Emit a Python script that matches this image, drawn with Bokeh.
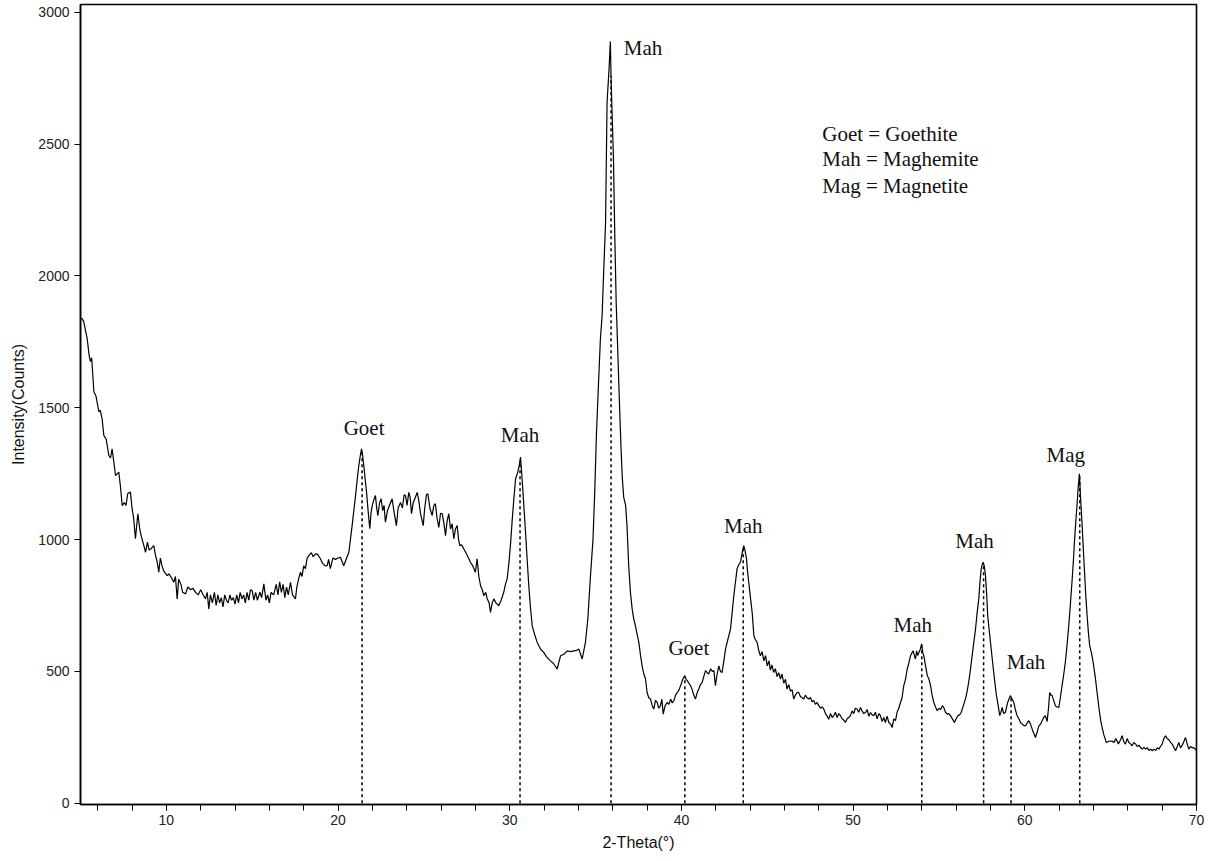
from bokeh.plotting import figure
from bokeh.models import Range1d, SingleIntervalTicker, ColumnDataSource, Label
from bokeh.embed import file_html
from bokeh.resources import INLINE
from bokeh.core.properties import value

# ---------------- data ----------------
two_theta = [5.0, 5.1, 5.19, 5.3, 5.39, 5.5, 5.58, 5.65, 5.78, 5.9, 6.07, 6.15, 6.26, 6.36, 6.5, 6.65, 6.75, 6.84, 6.95, 7.04,
             7.15, 7.23, 7.33, 7.43, 7.55, 7.65, 7.75, 7.91, 8.0, 8.1, 8.2, 8.34, 8.45, 8.55, 8.69, 8.79, 8.9, 9.0, 9.1, 9.27,
             9.37, 9.47, 9.56, 9.65, 9.75, 9.85, 10.05, 10.15, 10.3, 10.43, 10.53, 10.63, 10.72, 10.85, 10.95, 11.12, 11.25, 11.4, 11.55, 11.7,
             11.85, 12.0, 12.15, 12.28, 12.38, 12.47, 12.57, 12.68, 12.8, 12.9, 13.0, 13.1, 13.2, 13.3, 13.4, 13.5, 13.6, 13.7, 13.8, 13.9,
             14.0, 14.1, 14.2, 14.3, 14.4, 14.5, 14.6, 14.7, 14.8, 14.9, 15.0, 15.1, 15.2, 15.3, 15.45, 15.55, 15.68, 15.8, 15.9, 16.0,
             16.1, 16.25, 16.4, 16.5, 16.6, 16.7, 16.8, 16.9, 17.0, 17.1, 17.23, 17.35, 17.52, 17.6, 17.7, 17.81, 17.9, 18.0, 18.1, 18.2,
             18.3, 18.45, 18.55, 18.69, 18.8, 18.95, 19.1, 19.25, 19.37, 19.45, 19.55, 19.7, 19.85, 20.0, 20.14, 20.33, 20.5, 20.63, 20.72, 20.82,
             20.92, 21.02, 21.12, 21.21, 21.3, 21.37, 21.43, 21.5, 21.58, 21.66, 21.75, 21.85, 21.92, 21.99, 22.08, 22.18, 22.25, 22.32, 22.42, 22.51,
             22.6, 22.68, 22.76, 22.88, 23.0, 23.15, 23.25, 23.4, 23.5, 23.64, 23.75, 23.85, 23.93, 24.02, 24.12, 24.2, 24.28, 24.38, 24.5, 24.61,
             24.7, 24.8, 24.96, 25.05, 25.15, 25.23, 25.35, 25.48, 25.58, 25.67, 25.77, 25.87, 25.97, 26.07, 26.17, 26.26, 26.35, 26.45, 26.55, 26.65,
             26.74, 26.84, 26.94, 27.02, 27.09, 27.2, 27.32, 27.45, 27.6, 27.71, 27.85, 28.0, 28.1, 28.2, 28.3, 28.4, 28.49, 28.6, 28.69, 28.8,
             28.88, 28.98, 29.07, 29.2, 29.36, 29.5, 29.65, 29.75, 29.85, 29.95, 30.04, 30.14, 30.24, 30.34, 30.47, 30.55, 30.63, 30.72, 30.82, 30.92,
             31.02, 31.11, 31.21, 31.31, 31.45, 31.6, 31.79, 31.98, 32.15, 32.37, 32.55, 32.76, 32.96, 33.15, 33.35, 33.55, 33.73, 33.9, 34.02, 34.22,
             34.41, 34.55, 34.7, 34.85, 34.95, 35.05, 35.15, 35.28, 35.38, 35.48, 35.58, 35.67, 35.78, 35.86, 35.9, 35.97, 36.04, 36.12, 36.2, 36.3,
             36.39, 36.48, 36.56, 36.64, 36.75, 36.83, 36.93, 37.03, 37.13, 37.22, 37.32, 37.42, 37.52, 37.62, 37.71, 37.81, 37.91, 38.0, 38.1, 38.2,
             38.3, 38.39, 38.49, 38.59, 38.68, 38.78, 38.86, 38.94, 39.05, 39.17, 39.27, 39.37, 39.46, 39.56, 39.66, 39.76, 39.86, 39.95, 40.08, 40.2,
             40.27, 40.34, 40.44, 40.53, 40.63, 40.72, 40.82, 40.92, 41.01, 41.11, 41.21, 41.3, 41.4, 41.5, 41.59, 41.7, 41.8, 41.89, 41.98, 42.08,
             42.18, 42.27, 42.37, 42.47, 42.57, 42.7, 42.86, 42.95, 43.05, 43.15, 43.24, 43.34, 43.44, 43.54, 43.63, 43.7, 43.79, 43.85, 43.92, 44.02,
             44.12, 44.22, 44.31, 44.41, 44.5, 44.6, 44.7, 44.8, 44.9, 45.0, 45.1, 45.18, 45.27, 45.37, 45.47, 45.57, 45.67, 45.77, 45.86, 45.96,
             46.06, 46.15, 46.25, 46.35, 46.45, 46.54, 46.64, 46.74, 46.83, 46.93, 47.03, 47.13, 47.22, 47.32, 47.42, 47.51, 47.61, 47.71, 47.8, 47.9,
             48.0, 48.1, 48.2, 48.29, 48.39, 48.49, 48.58, 48.68, 48.78, 48.87, 48.97, 49.07, 49.17, 49.26, 49.36, 49.46, 49.55, 49.65, 49.75, 49.84,
             49.94, 50.04, 50.13, 50.23, 50.33, 50.43, 50.52, 50.62, 50.72, 50.82, 50.91, 51.01, 51.11, 51.2, 51.3, 51.4, 51.5, 51.59, 51.69, 51.79,
             51.88, 51.98, 52.08, 52.18, 52.27, 52.37, 52.47, 52.56, 52.66, 52.76, 52.85, 52.95, 53.05, 53.15, 53.24, 53.34, 53.44, 53.5, 53.57, 53.63,
             53.7, 53.76, 53.83, 53.92, 53.99, 54.06, 54.12, 54.22, 54.32, 54.42, 54.51, 54.6, 54.7, 54.8, 54.9, 55.0, 55.1, 55.2, 55.28, 55.38,
             55.48, 55.57, 55.67, 55.78, 55.9, 56.0, 56.1, 56.2, 56.3, 56.42, 56.54, 56.63, 56.73, 56.83, 56.93, 57.03, 57.13, 57.22, 57.32, 57.39,
             57.46, 57.52, 57.57, 57.64, 57.71, 57.78, 57.84, 57.92, 58.0, 58.1, 58.19, 58.27, 58.35, 58.45, 58.54, 58.61, 58.68, 58.77, 58.87, 59.0,
             59.08, 59.16, 59.26, 59.36, 59.45, 59.55, 59.65, 59.75, 59.85, 59.94, 60.04, 60.14, 60.23, 60.33, 60.43, 60.52, 60.62, 60.72, 60.82, 60.92,
             61.01, 61.1, 61.2, 61.3, 61.38, 61.45, 61.52, 61.59, 61.68, 61.78, 61.88, 61.98, 62.07, 62.17, 62.27, 62.36, 62.46, 62.56, 62.66, 62.76,
             62.83, 62.89, 62.95, 63.01, 63.06, 63.11, 63.18, 63.24, 63.29, 63.34, 63.41, 63.48, 63.55, 63.63, 63.7, 63.78, 63.88, 63.98, 64.1, 64.21,
             64.32, 64.44, 64.6, 64.75, 64.9, 65.08, 65.2, 65.3, 65.45, 65.57, 65.67, 65.76, 65.86, 65.96, 66.06, 66.15, 66.25, 66.35, 66.45, 66.55,
             66.65, 66.75, 66.84, 66.94, 67.04, 67.14, 67.23, 67.33, 67.42, 67.52, 67.62, 67.72, 67.81, 67.9, 68.0, 68.1, 68.2, 68.3, 68.4, 68.5,
             68.59, 68.69, 68.78, 68.88, 68.97, 69.07, 69.17, 69.27, 69.36, 69.46, 69.55, 69.65, 69.75, 69.84, 70.0]

intensity = [1840, 1838, 1826, 1790, 1762, 1700, 1675, 1690, 1561, 1545, 1485, 1490, 1458, 1395, 1380, 1319, 1310, 1344, 1290, 1243,
             1250, 1256, 1200, 1129, 1140, 1130, 1175, 1180, 1120, 1079, 1003, 1098, 1040, 1010, 977, 952, 990, 960, 965, 977,
             940, 914, 876, 930, 900, 880, 863, 870, 855, 838, 860, 775, 850, 830, 800, 794, 820, 810, 815, 800,
             790, 810, 790, 775, 800, 737, 790, 760, 800, 750, 790, 760, 780, 745, 790, 770, 760, 790, 770, 780,
             755, 790, 760, 800, 775, 790, 760, 800, 770, 810, 806, 770, 800, 770, 800, 780, 832, 770, 790, 760,
             800, 790, 830, 790, 840, 800, 830, 780, 820, 790, 838, 790, 775, 820, 850, 876, 860, 900, 890, 930,
             939, 950, 935, 946, 945, 930, 910, 900, 901, 925, 890, 930, 925, 930, 933, 901, 930, 952, 1000, 1053,
             1110, 1167, 1230, 1281, 1320, 1344, 1320, 1281, 1230, 1180, 1110, 1041, 1100, 1129, 1150, 1167, 1120, 1091, 1140, 1155,
             1110, 1130, 1066, 1110, 1130, 1155, 1110, 1053, 1120, 1141, 1120, 1170, 1167, 1130, 1179, 1160, 1098, 1140, 1160, 1179,
             1150, 1100, 1053, 1120, 1170, 1174, 1120, 1091, 1130, 1136, 1080, 1046, 1100, 1098, 1060, 1015, 1070, 1098, 1040, 1060,
             1003, 1040, 1053, 1000, 977, 980, 965, 950, 930, 914, 900, 876, 927, 860, 825, 810, 787, 800, 775, 760,
             724, 760, 775, 760, 749, 770, 800, 830, 851, 910, 977, 1070, 1155, 1231, 1256, 1280, 1313, 1231, 1130, 1028,
             920, 825, 740, 673, 640, 610, 585, 572, 555, 540, 530, 509, 559, 565, 578, 575, 578, 580, 585, 547,
             610, 700, 860, 1000, 1180, 1400, 1560, 1760, 1850, 2030, 2200, 2660, 2780, 2890, 2760, 2600, 2450, 2150, 1900, 1700,
             1520, 1350, 1230, 1160, 1130, 1053, 901, 800, 737, 700, 673, 640, 610, 560, 521, 490, 471, 420, 400, 395,
             370, 357, 390, 382, 360, 370, 395, 338, 370, 382, 375, 395, 380, 389, 410, 420, 430, 446, 470, 484,
             470, 465, 455, 446, 430, 410, 395, 420, 433, 450, 458, 480, 503, 495, 490, 510, 500, 503, 446, 490,
             521, 500, 496, 540, 585, 620, 661, 720, 787, 840, 889, 905, 914, 950, 977, 960, 927, 880, 838, 780,
             724, 635, 620, 610, 580, 559, 575, 540, 560, 521, 540, 505, 525, 496, 510, 480, 495, 471, 490, 455,
             470, 433, 450, 425, 430, 395, 410, 420, 420, 405, 400, 395, 410, 400, 395, 401, 385, 390, 375, 382,
             370, 360, 365, 357, 340, 330, 319, 340, 325, 332, 345, 325, 340, 332, 320, 315, 306, 320, 325, 332,
             350, 340, 360, 357, 345, 363, 350, 340, 344, 355, 330, 344, 335, 332, 345, 320, 340, 332, 310, 325,
             306, 330, 306, 300, 287, 320, 313, 345, 360, 382, 400, 446, 470, 509, 530, 559, 572, 578, 560, 547,
             578, 560, 572, 585, 604, 570, 559, 520, 484, 470, 446, 410, 382, 365, 351, 360, 355, 370, 363, 345,
             338, 340, 332, 320, 306, 320, 332, 335, 345, 370, 395, 420, 458, 505, 559, 610, 661, 720, 775, 840,
             889, 905, 914, 900, 863, 790, 711, 660, 610, 550, 496, 450, 408, 370, 332, 345, 363, 340, 345, 382,
             395, 408, 395, 382, 355, 332, 320, 306, 300, 295, 293, 305, 313, 300, 281, 265, 249, 270, 293, 300,
             313, 325, 332, 310, 360, 420, 410, 408, 390, 370, 365, 363, 400, 446, 490, 534, 600, 673, 760, 851,
             920, 990, 1050, 1103, 1150, 1199, 1250, 1167, 1110, 1053, 960, 876, 790, 711, 650, 597, 570, 534, 480, 420,
             360, 306, 260, 230, 235, 236, 230, 245, 225, 240, 256, 235, 224, 245, 230, 225, 218, 230, 225, 215,
             220, 210, 205, 212, 205, 210, 200, 205, 199, 205, 200, 210, 205, 215, 224, 245, 256, 245, 240, 230,
             224, 210, 199, 215, 230, 210, 220, 235, 249, 225, 205, 215, 210, 211, 200]

peak_pos = [21.4, 30.6, 35.9, 40.2, 43.6, 54.0, 57.6, 59.2, 63.2]
peak_height = [1340, 1300, 2760, 480, 970, 600, 905, 400, 1240]
peak_label = ["Goet", "Mah", "Mah", "Goet", "Mah", "Mah", "Mah", "Mah", "Mag"]
peak_label_top = [1340, 1300, 2890, 480, 970, 600, 905, 400, 1240]

legend_lines = ["Goet = Goethite", "Mah =  Maghemite", "Mag = Magnetite"]

# ---------------- layout / styles ----------------
label_dx = [2, 0, 32, 4, 0, -9, -9, 15, -14]
label_dy = [-22, -26, 7, -29, -21, -20, -24, -36, -21]

p = figure(width=1228, height=861, output_backend="svg", toolbar_location=None,
           x_range=Range1d(5, 70), y_range=Range1d(-5, 3030),
           min_border_left=80, min_border_right=32, min_border_top=4, min_border_bottom=57)
p.background_fill_color = "white"
p.border_fill_color = "white"
p.outline_line_color = "black"
p.outline_line_width = 1.6
p.xgrid.visible = False
p.ygrid.visible = False

p.line(two_theta, intensity, line_color="black", line_width=1.2)

p.segment(x0=peak_pos, y0=[0] * len(peak_pos), x1=peak_pos, y1=peak_height,
          line_color="black", line_width=1.5, line_dash="3 3")

src = ColumnDataSource(dict(x=peak_pos, y=peak_label_top, t=peak_label, dx=label_dx, dy=label_dy))
p.text(x="x", y="y", text="t", x_offset="dx", y_offset="dy", source=src,
       text_font=value("Liberation Serif"), text_font_size="21px", text_color="#111111",
       text_align="center", text_baseline="middle")

legend_y = [2540, 2442, 2342]
for txt, ly in zip(legend_lines, legend_y):
    p.add_layout(Label(x=48.2, y=ly, text=txt, text_font="Liberation Serif", text_font_size="21px",
                       text_color="#111111", text_baseline="middle", text_align="left"))

# axes
p.xaxis.ticker = SingleIntervalTicker(interval=10, num_minor_ticks=5)
p.yaxis.ticker = SingleIntervalTicker(interval=500, num_minor_ticks=0)
for ax in (p.xaxis[0], p.yaxis[0]):
    ax.axis_line_color = "black"
    ax.axis_line_width = 1.5
    ax.major_tick_line_color = "black"
    ax.minor_tick_line_color = "black"
    ax.major_tick_in = 0
    ax.major_tick_out = 6
    ax.minor_tick_in = 0
    ax.minor_tick_out = 6
    ax.major_label_text_font = "Liberation Sans"
    ax.major_label_text_font_size = "14px"
    ax.major_label_text_color = "#222222"
    ax.axis_label_text_font = "Liberation Sans"
    ax.axis_label_text_font_size = "16px"
    ax.axis_label_text_font_style = "normal"
    ax.axis_label_text_color = "#111111"
p.yaxis.minor_tick_line_color = None
p.xaxis.axis_label = "2-Theta(°)"
p.yaxis.axis_label = "Intensity(Counts)"
p.xaxis.major_label_standoff = 4
p.yaxis.major_label_standoff = 5
p.xaxis.axis_label_standoff = 6
p.yaxis.axis_label_standoff = 8

open("out.html", "w").write(file_html(p, INLINE))
